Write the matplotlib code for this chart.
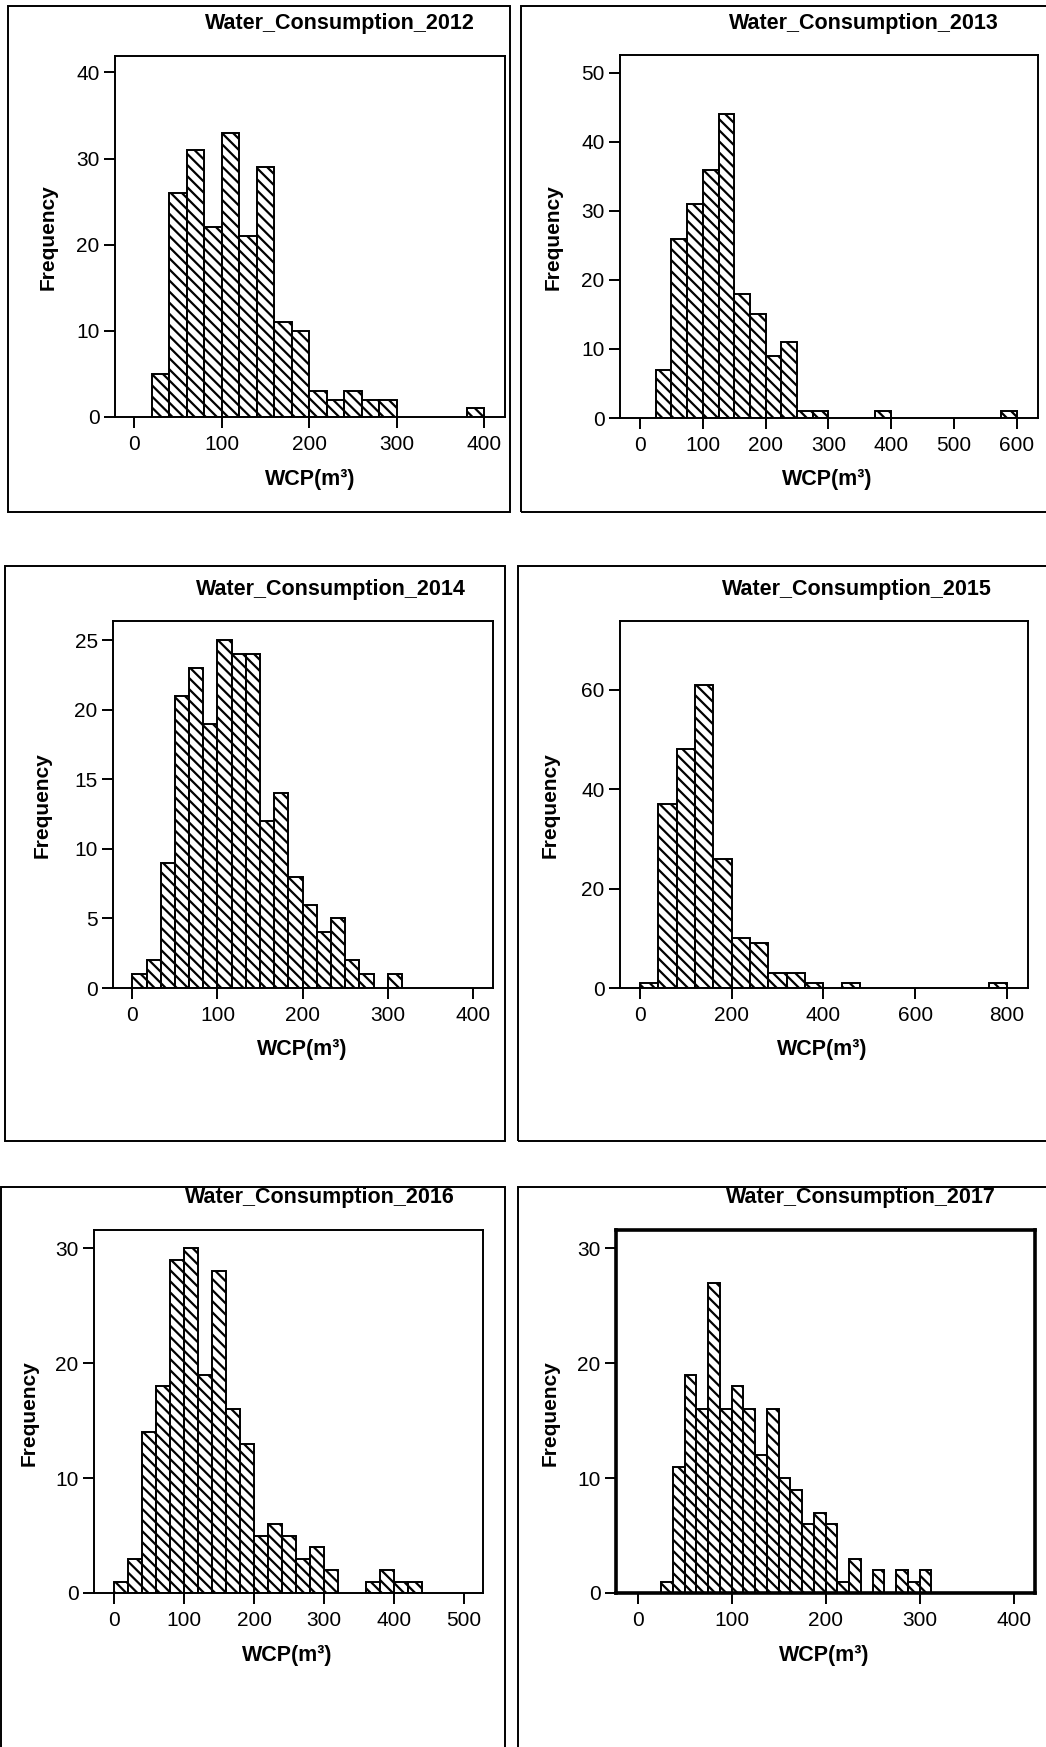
import numpy as np
import matplotlib
matplotlib.use('Agg')
import matplotlib.pyplot as plt
from matplotlib.patches import Rectangle

plt.rcParams['font.family'] = ['Liberation Sans', 'DejaVu Sans']
plt.rcParams['hatch.linewidth'] = 1.6

W, H = 1046, 1747  # tamanho da figura em pixels (dpi=100)

# ======= Dados: frequência por classe (início da 1a classe, largura, contagens) =======
years = ['2012', '2013', '2014', '2015', '2016', '2017']

start_2012, width_2012 = 20, 20
counts_2012 = [5, 26, 31, 22, 33, 21, 29, 11, 10, 3, 2, 3, 2, 2, 0, 0, 0, 0, 1]

start_2013, width_2013 = 25, 25
counts_2013 = [7, 26, 31, 36, 44, 18, 15, 9, 11, 1, 1, 0, 0, 0, 1,
               0, 0, 0, 0, 0, 0, 0, 1]

start_2014, width_2014 = 0, 50 / 3
counts_2014 = [1, 2, 9, 21, 23, 19, 25, 24, 24, 12, 14, 8, 6, 4, 5, 2, 1, 0, 1]

start_2015, width_2015 = 0, 40
counts_2015 = [1, 37, 48, 61, 26, 10, 9, 3, 3, 1, 0, 1,
               0, 0, 0, 0, 0, 0, 0, 1]

start_2016, width_2016 = 0, 20
counts_2016 = [1, 3, 14, 18, 29, 30, 19, 28, 16, 13, 5, 6, 5, 3, 4, 2,
               0, 0, 1, 2, 1, 1]

start_2017, width_2017 = 25, 12.5
counts_2017 = [1, 11, 19, 16, 27, 16, 18, 16, 12, 16, 10, 9, 6, 7, 6, 1, 3,
               0, 2, 0, 2, 1, 2]

hist_data = {
    '2012': (start_2012, width_2012, counts_2012),
    '2013': (start_2013, width_2013, counts_2013),
    '2014': (start_2014, width_2014, counts_2014),
    '2015': (start_2015, width_2015, counts_2015),
    '2016': (start_2016, width_2016, counts_2016),
    '2017': (start_2017, width_2017, counts_2017),
}

xticks = {
    '2012': [0, 100, 200, 300, 400],
    '2013': [0, 100, 200, 300, 400, 500, 600],
    '2014': [0, 100, 200, 300, 400],
    '2015': [0, 200, 400, 600, 800],
    '2016': [0, 100, 200, 300, 400, 500],
    '2017': [0, 100, 200, 300, 400],
}
yticks = {
    '2012': [0, 10, 20, 30, 40],
    '2013': [0, 10, 20, 30, 40, 50],
    '2014': [0, 5, 10, 15, 20, 25],
    '2015': [0, 20, 40, 60],
    '2016': [0, 10, 20, 30],
    '2017': [0, 10, 20, 30],
}

# ======= Layout (pixels): eixo (esq, topo, dir, base), limites, textos, moldura =======
layout = {
    '2012': dict(ax=(115, 56, 505, 417), xlim=(-22, 424), ylim=(0, 41.9),
                 title=(340, 23), ylab=(48, 237), xlab=(310, 480),
                 box=(8, 6, 510, 512), thick=False),
    '2013': dict(ax=(620, 55, 1038, 418), xlim=(-32, 634), ylim=(0, 52.6),
                 title=(864, 23), ylab=(553, 237), xlab=(827, 480),
                 box=(521, 6, 1050, 512), thick=False),
    '2014': dict(ax=(113, 621, 493, 988), xlim=(-22.7, 423.5), ylim=(0, 26.4),
                 title=(331, 589), ylab=(42, 805), xlab=(302, 1050),
                 box=(5, 566, 505, 1141), thick=False),
    '2015': dict(ax=(620, 621, 1028, 988), xlim=(-43.6, 846), ylim=(0, 73.8),
                 title=(857, 589), ylab=(550, 805), xlab=(822, 1050),
                 box=(518, 566, 1050, 1141), thick=False),
    '2016': dict(ax=(94, 1230, 483, 1593), xlim=(-29, 527), ylim=(0, 31.6),
                 title=(320, 1198), ylab=(29, 1413), xlab=(287, 1655),
                 box=(1, 1187, 505, 1760), thick=False),
    '2017': dict(ax=(616, 1230, 1035, 1593), xlim=(-23, 422.7), ylim=(0, 31.6),
                 title=(861, 1198), ylab=(550, 1413), xlab=(824, 1655),
                 box=(518, 1187, 1050, 1760), thick=True),
}

fig = plt.figure(figsize=(W / 100, H / 100), dpi=100)
fig.patch.set_facecolor('white')


def fx(x):
    return x / W


def fy(y):
    return 1 - y / H


for yr in years:
    L = layout[yr]
    # moldura externa de cada painel
    x0, y0, x1, y1 = L['box']
    fig.add_artist(Rectangle((fx(x0), fy(y1)), fx(x1) - fx(x0), fy(y0) - fy(y1),
                             transform=fig.transFigure, fill=False,
                             edgecolor='black', linewidth=1.4))

    l, t, r, b = L['ax']
    ax = fig.add_axes([fx(l), fy(b), fx(r) - fx(l), fy(t) - fy(b)])

    start, width, counts = hist_data[yr]
    edges = start + width * np.arange(len(counts))
    counts = np.array(counts)
    keep = counts > 0
    ax.bar(edges[keep], counts[keep], width=width, align='edge',
           facecolor='white', edgecolor='black', linewidth=1.4,
           hatch='\\\\\\')

    ax.set_xlim(*L['xlim'])
    ax.set_ylim(*L['ylim'])
    ax.set_xticks(xticks[yr])
    ax.set_yticks(yticks[yr])
    ax.tick_params(direction='out', length=8, width=1.4, labelsize=15,
                   colors='black', pad=3)
    ax.tick_params(axis='x', pad=5)

    lw = 2.6 if L['thick'] else 1.4
    for s in ax.spines.values():
        s.set_linewidth(lw)
        s.set_color('black')

    tx, ty = L['title']
    fig.text(fx(tx), fy(ty), 'Water_Consumption_' + yr, ha='center', va='center',
             fontsize=15.5, fontweight='bold')
    lx, ly = L['ylab']
    fig.text(fx(lx), fy(ly), 'Frequency', ha='center', va='center',
             rotation=90, fontsize=15, fontweight='bold')
    bx, by = L['xlab']
    fig.text(fx(bx), fy(by), 'WCP(m³)', ha='center', va='center',
             fontsize=15.5, fontweight='bold')

fig.savefig('out.png', dpi=100, facecolor='white')
